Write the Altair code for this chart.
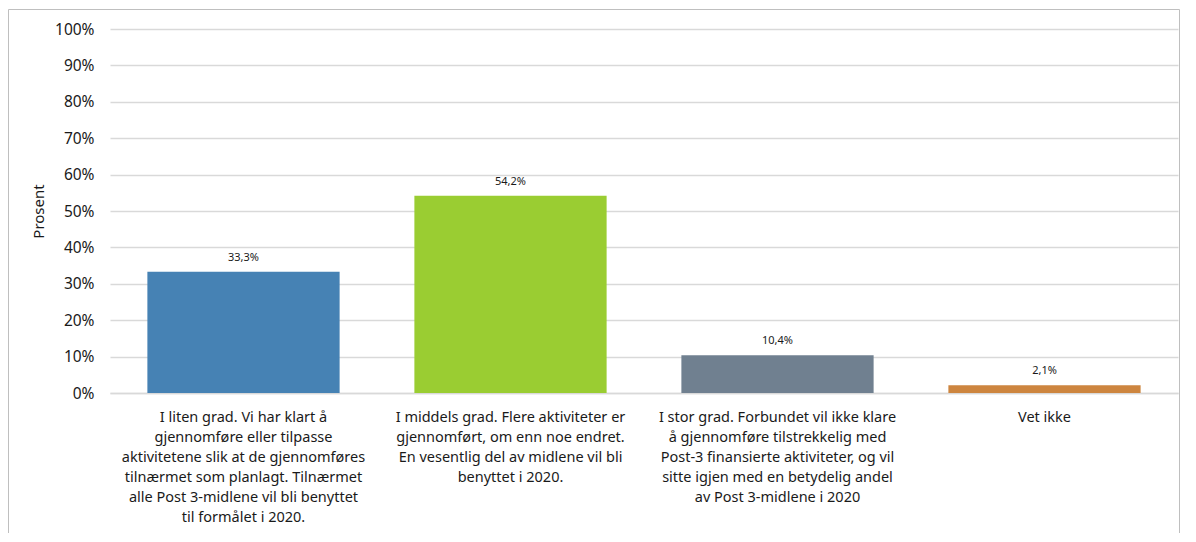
import altair as alt
import pandas as pd

categories = [
    "I liten grad. Vi har klart å\ngjennomføre eller tilpasse\naktivitetene slik at de gjennomføres\ntilnærmet som planlagt. Tilnærmet\nalle Post 3-midlene vil bli benyttet\ntil formålet i 2020.",
    "I middels grad. Flere aktiviteter er\ngjennomført, om enn noe endret.\nEn vesentlig del av midlene vil bli\nbenyttet i 2020.",
    "I stor grad. Forbundet vil ikke klare\nå gjennomføre tilstrekkelig med\nPost-3 finansierte aktiviteter, og vil\nsitte igjen med en betydelig andel\nav Post 3-midlene i 2020",
    "Vet ikke",
]
values = [33.3, 54.2, 10.4, 2.1]
colors = ["#4682B4", "#9ACD32", "#708090", "#CD853F"]
y_ticks = [0, 10, 20, 30, 40, 50, 60, 70, 80, 90, 100]

df = pd.DataFrame({"kategori": categories, "verdi": values, "farge": colors})

FONT = "Noto Sans"
W, H = 1068, 364

x = alt.X(
    "kategori:N",
    sort=None,
    title=None,
    scale=alt.Scale(paddingInner=0.28, paddingOuter=0.14),
    axis=alt.Axis(
        labelAngle=0,
        labelExpr="split(datum.label, '\\n')",
        labelFontSize=14.5,
        labelLineHeight=20,
        labelColor="#1a1a1a",
        labelFont=FONT,
        labelPadding=17,
        labelBaseline="top",
        ticks=False,
        domain=True,
        domainColor="#d9d9d9",
        domainWidth=1.5,
        labelLimit=400,
    ),
)

y = alt.Y(
    "verdi:Q",
    title="Prosent",
    scale=alt.Scale(domain=[0, 100], nice=False),
    axis=alt.Axis(
        values=y_ticks,
        labelExpr="datum.value + '%'",
        labelFontSize=15.5,
        labelColor="#1a1a1a",
        labelFont=FONT,
        labelPadding=16,
        labelOverlap=False,
        ticks=False,
        domain=False,
        grid=True,
        gridColor="#d9d9d9",
        gridWidth=1.5,
        titleFont=FONT,
        titleFontSize=15,
        titleFontWeight="normal",
        titleColor="#1a1a1a",
        titlePadding=8,
    ),
)

bars = alt.Chart(df).mark_bar().encode(
    x=x,
    y=y,
    color=alt.Color("farge:N", scale=None, legend=None),
)

labels = alt.Chart(df).transform_calculate(
    lbl="replace(format(datum.verdi, '.1f'), '.', ',') + '%'"
).mark_text(baseline="bottom", dy=-9, fontSize=11, font=FONT, color="#1a1a1a").encode(
    x=x,
    y=y,
    text="lbl:N",
)

frame = alt.Chart(df.head(1)).mark_rect(
    fill=None, stroke="#bfbfbf", strokeWidth=1
).encode(
    x=alt.value(-101.5),
    x2=alt.value(W + 1.5),
    y=alt.value(-19.5),
    y2=alt.value(H + 150),
)

chart = alt.layer(frame, bars, labels).properties(
    width=W,
    height=H,
    autosize=alt.AutoSizeParams(type="none"),
    padding={"left": 102, "top": 21, "right": 2, "bottom": 140},
).configure_view(stroke=None).configure_axisY(labelOverlap=False)

chart.save("out.html", embed_options={"renderer": "svg", "actions": False})
